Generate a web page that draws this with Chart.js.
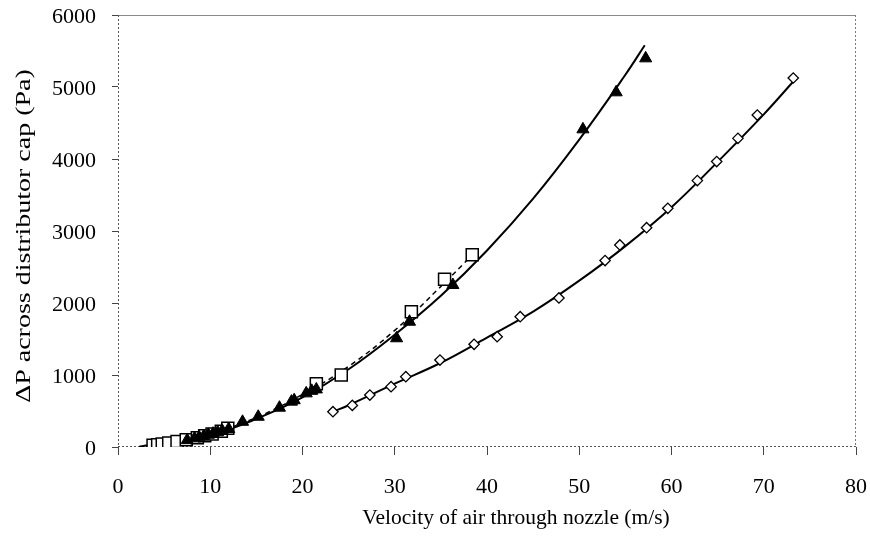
<!DOCTYPE html>
<html>
<head>
<meta charset="utf-8">
<script src="https://cdn.jsdelivr.net/npm/chart.js@4"></script>
<style>
  html, body { margin: 0; padding: 0; background: #fff; }
  #wrap { width: 870px; height: 542px; }
</style>
</head>
<body>
<div id="wrap"><canvas id="c" width="870" height="542"></canvas></div>
<script>
// ---- data ----
const xTitle = "Velocity of air through nozzle (m/s)";
const yTitle = "\u0394P across distributor cap (Pa)";

const triX = [7.5, 8.3, 8.8, 9.3, 9.8, 10.3, 10.8, 11.3, 12.0, 13.5, 15.2, 17.5, 18.8, 19.1, 20.4, 21.0, 21.5, 30.2, 31.6, 36.3, 50.4, 54.0, 57.2];
const triY = [95, 120, 135, 150, 170, 185, 205, 225, 250, 350, 420, 546, 630, 650, 745, 780, 800, 1510, 1740, 2250, 4412, 4926, 5398];

const sqX = [3.8, 4.3, 4.8, 5.5, 6.4, 7.4, 8.6, 9.4, 10.2, 11.2, 11.9, 21.5, 24.2, 31.8, 35.4, 38.4];
const sqY = [25, 30, 40, 55, 75, 100, 130, 155, 180, 220, 260, 880, 1000, 1880, 2330, 2670];

const diaX = [23.3, 25.4, 27.3, 29.6, 31.2, 34.9, 38.6, 41.1, 43.6, 47.8, 52.8, 54.4, 57.3, 59.6, 62.8, 64.9, 67.2, 69.3, 73.2];
const diaY = [490, 578, 722, 838, 977, 1208, 1426, 1532, 1810, 2070, 2590, 2806, 3046, 3315, 3700, 3965, 4287, 4611, 5125];

// trend curves
const triFitX = [2.3, 10, 15, 20, 25, 30, 35, 40, 45, 50, 55, 57.1];
const triFitY = [5, 170, 390, 690, 1080, 1560, 2100, 2730, 3450, 4270, 5170, 5580];

const sqFitX = [3.8, 10, 15, 20, 25, 30, 35, 38.5];
const sqFitY = [25, 185, 410, 730, 1120, 1620, 2230, 2680];

const diaFitX = [23.3, 25, 30, 35, 40, 45, 50, 55, 60, 65, 70, 73.3];
const diaFitY = [490, 580, 880, 1170, 1520, 1880, 2310, 2790, 3330, 3960, 4620, 5090];

const xTicks = [0, 10, 20, 30, 40, 50, 60, 70, 80];
const yTicks = [0, 1000, 2000, 3000, 4000, 5000, 6000];

const pts = (xs, ys) => xs.map((x, i) => ({ x: x, y: ys[i] }));

const FONT = "'Liberation Serif', 'DejaVu Serif', serif";

const framePlugin = {
  id: 'frame',
  beforeDatasetsDraw(chart) {
    const { ctx, chartArea: a } = chart;
    ctx.save();
    ctx.lineWidth = 1;
    ctx.strokeStyle = '#8a8a8a';
    ctx.setLineDash([]);
    ctx.beginPath(); ctx.moveTo(a.left, a.top + 0.5); ctx.lineTo(a.right, a.top + 0.5); ctx.stroke();
    ctx.setLineDash([2, 2]);
    ctx.strokeStyle = '#777';
    ctx.beginPath(); ctx.moveTo(a.right - 0.5, a.top); ctx.lineTo(a.right - 0.5, a.bottom); ctx.stroke();
    ctx.strokeStyle = '#555';
    ctx.beginPath(); ctx.moveTo(a.left + 0.5, a.top); ctx.lineTo(a.left + 0.5, a.bottom); ctx.stroke();
    ctx.beginPath(); ctx.moveTo(a.left, a.bottom - 0.5); ctx.lineTo(a.right, a.bottom - 0.5); ctx.stroke();
    ctx.restore();
  },
  afterDraw(chart) {
    const { ctx } = chart;
    ctx.save();
    ctx.fillStyle = '#000';
    ctx.textAlign = 'center';
    ctx.textBaseline = 'middle';
    ctx.font = "21.5px " + FONT;
    ctx.fillText(xTitle, 516, 518);
    ctx.translate(25, 236);
    ctx.rotate(-Math.PI / 2);
    ctx.scale(1.4, 1);
    ctx.font = "20px " + FONT;
    ctx.fillText(yTitle, 0, 0);
    ctx.restore();
  }
};

new Chart(document.getElementById('c'), {
  type: 'scatter',
  data: {
    datasets: [
      { label: 'tri', data: pts(triX, triY), pointStyle: 'triangle', pointRadius: 7,
        backgroundColor: '#000', borderColor: '#000', borderWidth: 1, showLine: false, order: 1 },
      { label: 'sq', data: pts(sqX, sqY), pointStyle: 'rect', pointRadius: 8.5,
        backgroundColor: '#fff', borderColor: '#000', borderWidth: 1.5, showLine: false, order: 2 },
      { label: 'dia', data: pts(diaX, diaY), pointStyle: 'rectRot', pointRadius: 5.2,
        backgroundColor: '#fff', borderColor: '#000', borderWidth: 1.3, showLine: false, order: 3 },
      { label: 'triFit', data: pts(triFitX, triFitY), showLine: true, pointRadius: 0,
        borderColor: '#000', borderWidth: 2, tension: 0.4, order: 4 },
      { label: 'sqFit', data: pts(sqFitX, sqFitY), showLine: true, pointRadius: 0,
        borderColor: '#000', borderWidth: 1.5, borderDash: [5, 4], tension: 0.4, order: 5 },
      { label: 'diaFit', data: pts(diaFitX, diaFitY), showLine: true, pointRadius: 0,
        borderColor: '#000', borderWidth: 2, tension: 0.4, order: 6 }
    ]
  },
  options: {
    responsive: false,
    animation: false,
    events: [],
    layout: { padding: { top: 15, right: 14, left: 0, bottom: 0 } },
    plugins: { legend: { display: false }, tooltip: { enabled: false } },
    scales: {
      x: {
        type: 'linear', min: 0, max: 80,
        afterBuildTicks: (s) => { s.ticks = xTicks.map(v => ({ value: v })); },
        afterFit: (s) => { s.height = 95; s.paddingLeft = 0; s.paddingRight = 0; },
        border: { display: false },
        grid: { drawOnChartArea: false, drawTicks: true, tickLength: 8, color: '#444', tickColor: '#444' },
        ticks: { color: '#000', padding: 19, font: { family: FONT, size: 22 }, maxRotation: 0,
                 callback: (v) => String(v) }
      },
      y: {
        type: 'linear', min: 0, max: 6000,
        afterBuildTicks: (s) => { s.ticks = yTicks.map(v => ({ value: v })); },
        afterFit: (s) => { s.width = 118; s.paddingTop = 0; s.paddingBottom = 0; },
        border: { display: false },
        grid: { drawOnChartArea: false, drawTicks: true, tickLength: 6, color: '#444', tickColor: '#444' },
        ticks: { color: '#000', padding: 16, labelOffset: 2, font: { family: FONT, size: 22 },
                 callback: (v) => String(v) }
      }
    }
  },
  plugins: [framePlugin]
});
</script>
</body>
</html>
